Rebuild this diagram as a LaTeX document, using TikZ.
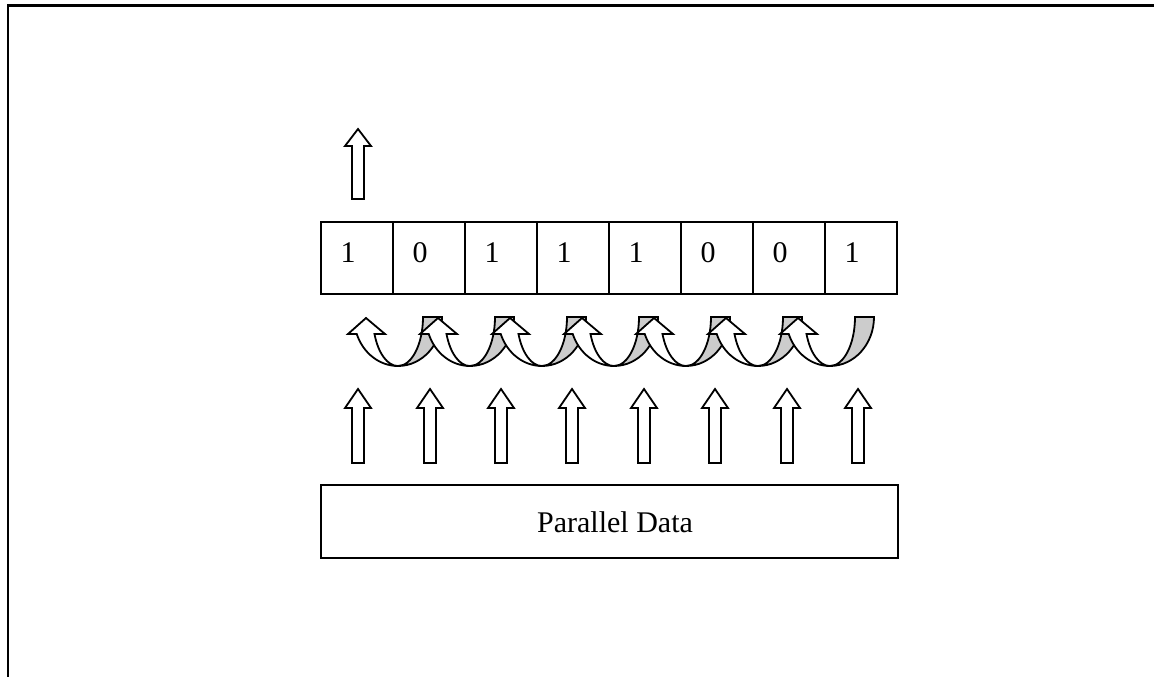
\documentclass[tikz,border=0pt]{standalone}
\usepackage{fontspec}
\setmainfont{Liberation Serif}
\usetikzlibrary{positioning}

% Blokkpil oppover: x, spiss, skulder, bunn
\newcommand{\oppil}[4]{%
  \draw[blokkpil] ({#1-6},#4) -- ({#1-6},#3) -- ({#1-13},#3) -- (#1,#2)
    -- ({#1+13},#3) -- ({#1+6},#3) -- ({#1+6},#4) -- cycle;}

\begin{document}
\begin{tikzpicture}[x=1pt, y=-1pt,
    celle/.style={draw, line width=1.8pt, minimum width=72pt, minimum height=72pt,
      outer sep=0pt, text width=33pt, inner xsep=19.5pt, align=left, text depth=10pt,
      font=\fontsize{30}{33}\selectfont},
    blokkpil/.style={draw, line width=1.8pt, fill=white, line join=miter},
    bakside/.style={draw, line width=1.8pt, fill=black!20},
    forside/.style={draw, line width=1.8pt, fill=white}]
    \useasboundingbox (0,0) rectangle (1154,677);

    % Ramme
    \draw[line width=2.4pt] (8,677) -- (8,5.5) -- (1154,5.5);

    % Register
    \node[celle] (c1) at (357,258) {1};
    \node[celle, right=0pt of c1] (c2) {0};
    \node[celle, right=0pt of c2] (c3) {1};
    \node[celle, right=0pt of c3] (c4) {1};
    \node[celle, right=0pt of c4] (c5) {1};
    \node[celle, right=0pt of c5] (c6) {0};
    \node[celle, right=0pt of c6] (c7) {0};
    \node[celle, right=0pt of c7] (c8) {1};

    % Utgang
    \oppil{358}{129}{146}{199}

    % Skift mellom cellene
    \foreach \b in {398,470,...,830} {
      \draw[bakside] ({\b+44},317) arc[start angle=0, end angle=90, x radius=44, y radius=49]
        arc[start angle=90, end angle=0, x radius=25, y radius=49] -- cycle;
    }
    \foreach \b in {398,470,...,830} {
      \draw[forside] (\b,366) arc[start angle=90, end angle=159.7, x radius=44, y radius=49]
        -- ({\b-50},334) -- ({\b-32},318) -- ({\b-13},334) -- ({\b-23.5},334)
        arc[start angle=159.7, end angle=90, x radius=25, y radius=49] -- cycle;
    }

    % Innlasting
    \foreach \x in {358,430,501,572,644,715,787,858} {
      \oppil{\x}{389}{408}{463}
    }

    % Parallelle data
    \node[draw, line width=1.8pt, minimum width=577pt, minimum height=73pt] (data) at (609.5,521.5) {};
    \node[font=\fontsize{30}{33}\selectfont] (tekst) at ([xshift=5.5pt, yshift=-1pt]data.center) {Parallel Data};
\end{tikzpicture}
\end{document}
